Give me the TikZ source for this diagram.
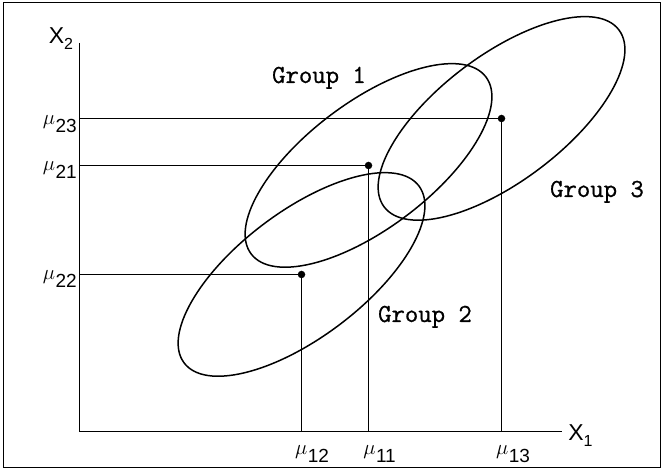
\documentclass[tikz,border=0pt]{standalone}
\usepackage{fontspec}
\setmainfont{Liberation Sans}
\newfontfamily\grpfont[FakeBold=0.8]{Latin Modern Mono}
\newcommand{\mulab}[1]{{\fontsize{22}{22}\selectfont$\mu$}\kern0.5pt\raisebox{-8pt}{\fontsize{19}{19}\selectfont #1}}
\newcommand{\xlab}[1]{{\fontsize{23}{23}\selectfont X}\raisebox{-6pt}{\fontsize{16}{16}\selectfont #1}}
\begin{document}
\begin{tikzpicture}[x=1pt,y=1pt,line width=1.5pt,
  ell/.style={draw,line width=1.5pt},
  grp/.style={font=\fontsize{26}{26}\selectfont\grpfont,anchor=base,inner sep=0pt},
  mulabel/.style={inner sep=0pt},
  dotmark/.style={circle,fill=black,inner sep=0pt,minimum size=7.5pt}]
\useasboundingbox (0,0) rectangle (664,470);
\draw[line width=1.5pt] (3.5,2.5) rectangle (660.5,467.5);
% axes
\coordinate (O) at (79.5,38.5);
\coordinate (ytop) at (79.5,427);
\coordinate (xend) at (562,38.5);
\draw (ytop) -- (O) -- (xend);
% means
\coordinate (m1) at (368.5,304.5);
\coordinate (m2) at (301.5,195.5);
\coordinate (m3) at (501.5,351.5);
% ellipses
\draw[ell,rotate around={37:(m1)}] (m1) ellipse [x radius=147pt, y radius=63pt];
\draw[ell,rotate around={37:(m2)}] (m2) ellipse [x radius=147pt, y radius=63pt];
\draw[ell,rotate around={37:(m3)}] (m3) ellipse [x radius=147pt, y radius=63pt];
% projection lines
\foreach \m in {m1,m2,m3}{
  \draw (O |- \m) -- (\m) -- (\m |- O);
  \node[dotmark] at (\m) {};
}
% axis labels
\node[mulabel] (X2) at (61,431) {\xlab{2}};
\node[mulabel] (X1) at (580.5,34) {\xlab{1}};
% mean labels
\node[mulabel,anchor=east] (l23) at ([yshift=-5pt]77.5,351) {\mulab{23}};
\node[mulabel,anchor=east] (l21) at ([yshift=-5pt]77.5,304.5) {\mulab{21}};
\node[mulabel,anchor=east] (l22) at ([yshift=-5pt]77.5,195.5) {\mulab{22}};
\node[mulabel] (l12) at (312,16) {\mulab{12}};
\node[mulabel] (l11) at (379.5,16) {\mulab{11}};
\node[mulabel] (l13) at (513,16) {\mulab{13}};
% group labels
\node[grp] (g1) at (319,387) {Group 1};
\node[grp] (g2) at (425,148) {Group 2};
\node[grp] (g3) at (597,273) {Group 3};
\end{tikzpicture}
\end{document}
